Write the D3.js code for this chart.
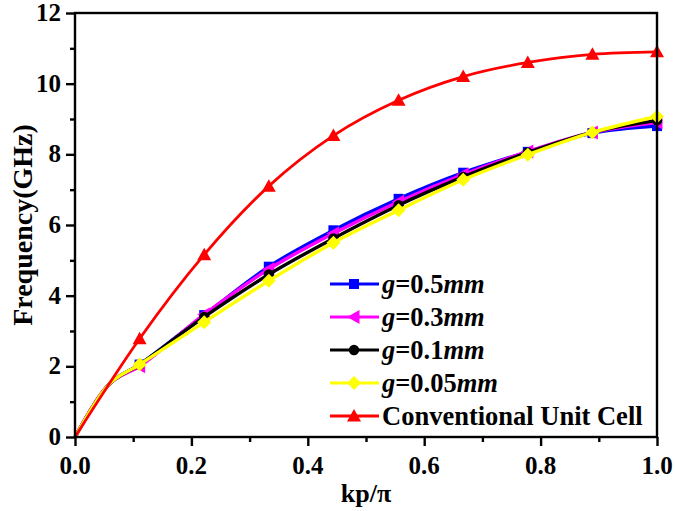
<!DOCTYPE html>
<html><head><meta charset="utf-8">
<script src="https://cdn.jsdelivr.net/npm/d3@7/dist/d3.min.js"></script>
<style>body{margin:0;background:#fff}svg{display:block}text{font-family:"Liberation Serif","Times New Roman",serif;font-weight:bold}</style>
</head><body><svg id="c" width="675" height="511"></svg>
<script>
const xRed = [0, 0.111, 0.222, 0.333, 0.444, 0.556, 0.667, 0.778, 0.889, 1.0];
const red = [0, 2.78, 5.16, 7.1, 8.53, 9.53, 10.2, 10.6, 10.83, 10.9];
const xG = [0, 0.056, 0.111, 0.222, 0.333, 0.444, 0.556, 0.667, 0.778, 0.889, 1.0];
const g05 = [0, 1.45, 2.05, 3.45, 4.82, 5.85, 6.74, 7.48, 8.07, 8.6, 8.8];
const g03 = [0, 1.45, 2.0, 3.47, 4.75, 5.76, 6.66, 7.43, 8.08, 8.62, 8.9];
const g01 = [0, 1.45, 2.05, 3.4, 4.6, 5.62, 6.56, 7.36, 8.05, 8.62, 8.96];
const g005 = [0, 1.45, 2.05, 3.25, 4.42, 5.5, 6.42, 7.28, 7.99, 8.62, 9.07];
const xTicks = [0, 0.2, 0.4, 0.6, 0.8, 1.0];
const yTicks = [0, 2, 4, 6, 8, 10, 12];

const series = [
  {name:"g05", label:["g","=0.5","mm"], y:g05, x:xG, color:"#0000ff", sym:"square"},
  {name:"g03", label:["g","=0.3","mm"], y:g03, x:xG, color:"#ff00ff", sym:"ltri"},
  {name:"g01", label:["g","=0.1","mm"], y:g01, x:xG, color:"#000000", sym:"circle"},
  {name:"g005", label:["g","=0.05","mm"], y:g005, x:xG, color:"#ffff00", sym:"diamond"},
  {name:"red", label:[null,"Conventional Unit Cell",null], y:red, x:xRed, color:"#ff0000", sym:"tri"}
];

const svg = d3.select("#c");
const L=75, R=657, T=13, B=437;
const x = d3.scaleLinear().domain([0,1]).range([L,R]);
const y = d3.scaleLinear().domain([0,12]).range([B,T]);

function marker(g, sym, cx, cy, color){
  let p;
  if(sym==="square") p = g.append("rect").attr("x",cx-5).attr("y",cy-5).attr("width",10).attr("height",10);
  else if(sym==="circle") p = g.append("circle").attr("cx",cx).attr("cy",cy).attr("r",5.2);
  else if(sym==="diamond") p = g.append("path").attr("d",`M${cx},${cy-7}L${cx+7},${cy}L${cx},${cy+7}L${cx-7},${cy}Z`);
  else if(sym==="tri") p = g.append("path").attr("d",`M${cx},${cy-7}L${cx+7},${cy+5.5}L${cx-7},${cy+5.5}Z`);
  else if(sym==="ltri") p = g.append("path").attr("d",`M${cx-7},${cy}L${cx+5.5},${cy-7}L${cx+5.5},${cy+7}Z`);
  p.attr("fill",color);
}

const plot = svg.append("g");
series.forEach(s=>{
  const pts = s.x.map((v,i)=>[v,s.y[i]]);
  const line = d3.line().x(d=>x(d[0])).y(d=>y(d[1])).curve(d3.curveMonotoneX);
  plot.append("path").attr("d",line(pts)).attr("fill","none").attr("stroke",s.color)
    .attr("stroke-width", s.name==="red"?2.8:3.4).attr("stroke-linejoin","round");
  pts.forEach((d,i)=>{
    if(s.name!=="red" && i<2) return;
    if(i===0) return;
    marker(plot, s.sym, x(d[0]), y(d[1]), s.color);
  });
});

// frame
svg.append("rect").attr("x",L).attr("y",T).attr("width",R-L).attr("height",B-T)
  .attr("fill","none").attr("stroke","#000").attr("stroke-width",2.4);

// axes
const xAxis = svg.append("g").attr("transform",`translate(0,${B})`);
xAxis.call(d3.axisBottom(x).tickValues(d3.range(0,1.001,0.1)).tickSize(9).tickFormat(""));
xAxis.selectAll("path").remove();
xAxis.selectAll("line").attr("stroke","#000").attr("stroke-width",2.4);
xAxis.selectAll(".tick").filter(d=>!xTicks.some(t=>Math.abs(t-d)<1e-6)).select("line").attr("y2",5);
xTicks.forEach(t=>{
  svg.append("text").attr("x",x(t)).attr("y",474).attr("text-anchor","middle")
    .attr("font-size",25).text(d3.format(".1f")(t));
});

const yAxis = svg.append("g").attr("transform",`translate(${L},0)`);
yAxis.call(d3.axisLeft(y).tickValues(d3.range(0,12.001,1)).tickSize(9).tickFormat(""));
yAxis.selectAll("path").remove();
yAxis.selectAll("line").attr("stroke","#000").attr("stroke-width",2.4);
yAxis.selectAll(".tick").filter(d=>d%2!==0).select("line").attr("x2",-5);
yTicks.forEach(t=>{
  svg.append("text").attr("x",L-14).attr("y",y(t)+8).attr("text-anchor","end")
    .attr("font-size",25).text(t);
});

svg.append("text").attr("x",(L+R)/2).attr("y",502).attr("text-anchor","middle").attr("font-size",26).text("kp/π");
svg.append("text").attr("transform",`translate(32,${(T+B)/2}) rotate(-90)`).attr("text-anchor","middle").attr("font-size",28).text("Frequency(GHz)");

// legend
const lg = svg.append("g");
series.forEach((s,i)=>{
  const cy = 284 + i*33;
  lg.append("line").attr("x1",330).attr("x2",379).attr("y1",cy).attr("y2",cy).attr("stroke",s.color).attr("stroke-width",3.2);
  marker(lg, s.sym, 354, cy, s.color);
  const t = lg.append("text").attr("x",382).attr("y",cy+9).attr("font-size",26.5);
  if(s.label[0]) t.append("tspan").attr("font-style","italic").text(s.label[0]);
  t.append("tspan").text(s.label[1]);
  if(s.label[2]) t.append("tspan").attr("font-style","italic").text(s.label[2]);
});
</script></body></html>
